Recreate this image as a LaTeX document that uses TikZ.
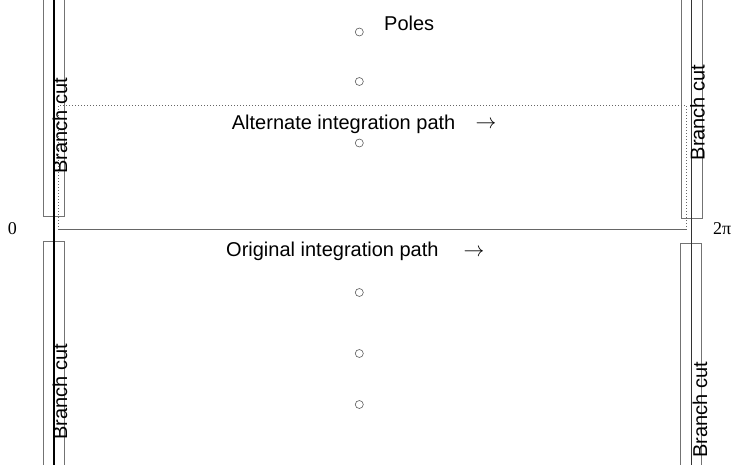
\documentclass[tikz,border=0pt]{standalone}
\usepackage{fontspec}
\setsansfont{Liberation Sans}
\newfontfamily\tmsfont{Liberation Serif}
\begin{document}
\begin{tikzpicture}[x=1pt,y=-1pt,
  lbl/.style={font=\sffamily\fontsize{20}{24}\selectfont, inner sep=0pt},
  cutlbl/.style={lbl, rotate=90},
  arr/.style={font=\fontsize{21}{24}\selectfont, inner sep=0pt},
  endlbl/.style={font=\tmsfont\fontsize{18}{21}\selectfont, inner sep=0pt},
  pole/.style={circle, draw=black!65, line width=0.6pt, minimum size=8pt, inner sep=0pt},
  cutbox/.style={draw=black!55, line width=0.8pt},
  axisline/.style={draw=black, line width=1.1pt},
  origpath/.style={draw=black!60, line width=0.8pt},
  altpath/.style={draw=black!60, line width=0.8pt, dash pattern=on 1pt off 2pt}]
\useasboundingbox (0,0) rectangle (734,464);
\clip (0,0) rectangle (734,464);

% branch cuts: strips above and below the real axis at 0 and 2pi
\draw[cutbox] (43,-5) rectangle (64,216);
\draw[cutbox] (43,241) rectangle (64,470);
\draw[cutbox] (681,-5) rectangle (702,218);
\draw[cutbox] (680,243) rectangle (701,470);

% vertical lines Re z = 0 and Re z = 2pi
\coordinate (l0top) at (54,-5);
\coordinate (l0bot) at (54,470);
\coordinate (l2top) at (691,-5);
\coordinate (l2bot) at (691,470);
\draw[axisline] (l0top) -- (l0bot);
\draw[axisline, line width=0.9pt, draw=black!80] (l2top) -- (l2bot);

% integration paths
\coordinate (origA) at (58.7,229.5);
\coordinate (origB) at (686,229.5);
\coordinate (altA) at (58.7,105);
\coordinate (altB) at (686,105);
\draw[origpath] (origA) -- (origB);
\draw[altpath] (origA) -- (altA) -- (altB) -- (origB);

% poles
\node[pole] (p1) at (359.3,32) {};
\node[pole] (p2) at (359.3,81.5) {};
\node[pole] (p3) at (359.3,143) {};
\node[pole] (p4) at (359.3,292.5) {};
\node[pole] (p5) at (359.3,353.5) {};
\node[pole] (p6) at (359.3,404.5) {};

% labels
\node[lbl, anchor=base west] (poles) at (384,30) {Poles};
\node[lbl, anchor=base west] (alt) at (231.7,129.5) {Alternate integration path};
\node[arr] (altarr) at (486,125) {$\rightarrow$};
\node[lbl, anchor=base west] (orig) at (226,256.5) {Original integration path};
\node[arr] (origarr) at (474,252.5) {$\rightarrow$};

\node[cutlbl] (cutUL) at (60,126) {Branch cut};
\node[cutlbl] (cutUR) at (697.5,112.5) {Branch cut};
\node[cutlbl] (cutLL) at (60,392) {Branch cut};
\node[cutlbl] (cutLR) at (700,410) {Branch cut};

\node[endlbl] (zero) at (12.5,229) {0};
\node[endlbl, anchor=west] (twopi) at (713,229) {2π};
\end{tikzpicture}
\end{document}
